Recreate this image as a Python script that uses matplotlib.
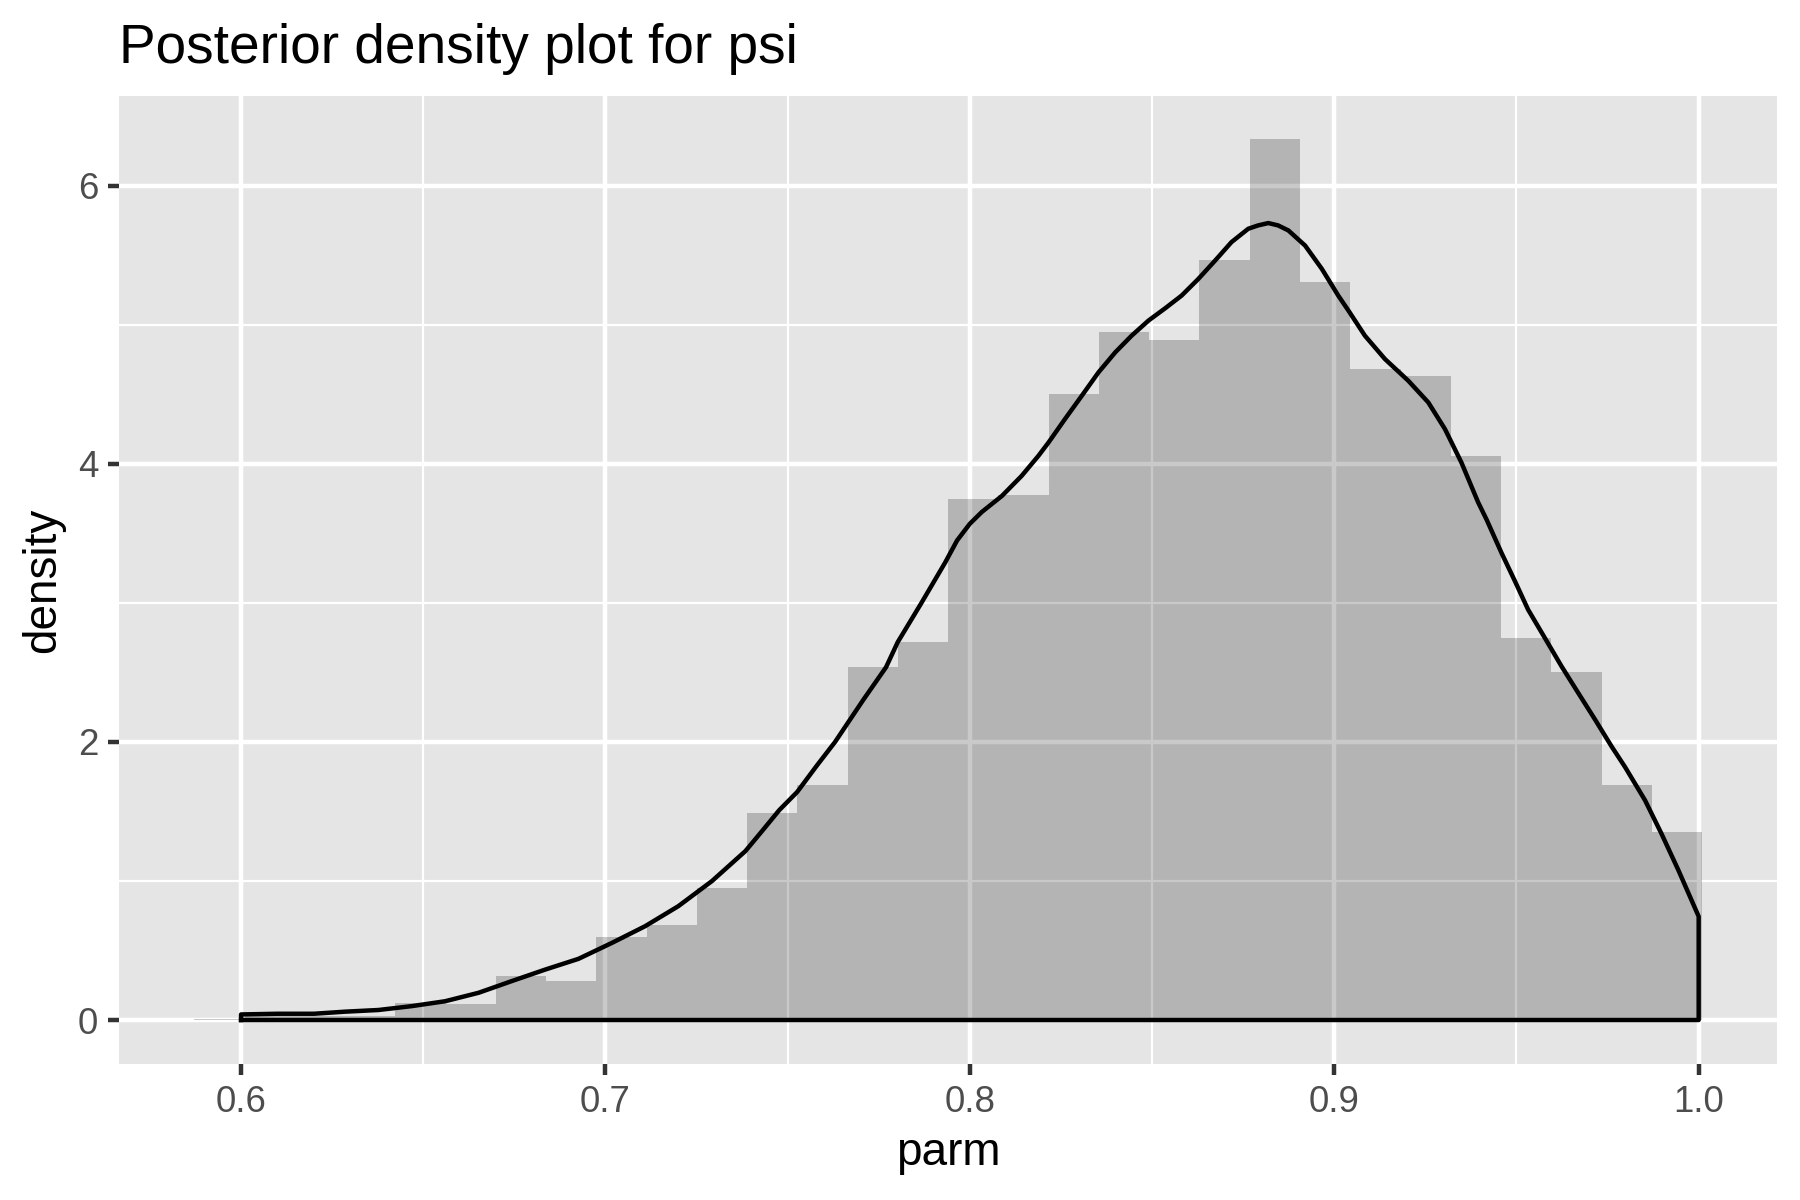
import numpy as np
import matplotlib
matplotlib.use('Agg')
import matplotlib.pyplot as plt

plt.rcParams['font.family'] = ['Liberation Sans', 'DejaVu Sans']

# histogram: 30 bins, density heights
bin_start = 0.58715
bin_width = 0.013793
hist_density = [0.01, 0.04, 0.03, 0.03, 0.124, 0.112, 0.32, 0.284, 0.596, 0.687,
                0.946, 1.49, 1.69, 2.54, 2.72, 3.745, 3.78, 4.50, 4.95, 4.89,
                5.47, 6.337, 5.31, 4.68, 4.63, 4.055, 2.75, 2.50, 1.69, 1.355]

# kernel density curve
dens_x = [0.600, 0.610, 0.620, 0.6286, 0.6377, 0.6469, 0.656, 0.6652, 0.6743, 0.6835,
          0.6926, 0.7018, 0.7109, 0.7200, 0.7292, 0.7384, 0.7430, 0.7477, 0.7526, 0.7580,
          0.7630, 0.7708, 0.7770, 0.7802, 0.7867, 0.7932, 0.7965, 0.8000, 0.8033, 0.8088,
          0.8142, 0.8188, 0.8216, 0.8261, 0.8307, 0.8353, 0.8399, 0.8444, 0.8490, 0.8536,
          0.8581, 0.8627, 0.8673, 0.8718, 0.8764, 0.8791, 0.8819, 0.8846, 0.8874, 0.8920,
          0.8966, 0.9011, 0.9039, 0.9084, 0.9139, 0.9203, 0.9258, 0.9304, 0.9349, 0.9395,
          0.9418, 0.9459, 0.9496, 0.9532, 0.9578, 0.9624, 0.9670, 0.9716, 0.9761, 0.9798,
          0.9853, 0.9898, 0.9944, 1.000]
dens_y = [0.040, 0.045, 0.045, 0.060, 0.072, 0.100, 0.135, 0.196, 0.280, 0.363,
          0.440, 0.555, 0.675, 0.819, 0.999, 1.215, 1.360, 1.510, 1.640, 1.830,
          2.000, 2.305, 2.538, 2.718, 3.000, 3.290, 3.450, 3.570, 3.655, 3.770,
          3.914, 4.058, 4.155, 4.323, 4.490, 4.659, 4.803, 4.923, 5.031, 5.120,
          5.211, 5.331, 5.463, 5.596, 5.692, 5.716, 5.733, 5.716, 5.680, 5.571,
          5.403, 5.211, 5.103, 4.923, 4.755, 4.599, 4.443, 4.250, 4.010, 3.723,
          3.600, 3.360, 3.156, 2.952, 2.748, 2.543, 2.351, 2.160, 1.968, 1.820,
          1.580, 1.340, 1.080, 0.745]

x_major = [0.6, 0.7, 0.8, 0.9, 1.0]
x_minor = [0.65, 0.75, 0.85, 0.95]
y_major = [0, 2, 4, 6]
y_minor = [1, 3, 5]

fig = plt.figure(figsize=(6, 4), dpi=300)
ax = fig.add_axes([119/1800, 1 - 1064/1200, (1777-119)/1800, (1064-96)/1200])
ax.set_facecolor('#E5E5E5')

for v in x_major:
    ax.axvline(v, color='white', lw=1.07, zorder=1)
for v in x_minor:
    ax.axvline(v, color='white', lw=0.53, zorder=1)
for v in y_major:
    ax.axhline(v, color='white', lw=1.07, zorder=1)
for v in y_minor:
    ax.axhline(v, color='white', lw=0.53, zorder=1)

edges = bin_start + bin_width*np.arange(len(hist_density))
ax.bar(edges, hist_density, width=bin_width, align='edge',
       color='black', alpha=0.21, linewidth=0, zorder=2)

# density outline (closed along the baseline like geom_density)
px = [dens_x[0]] + dens_x + [dens_x[-1], dens_x[0]]
py = [0] + dens_y + [0, 0]
ax.plot(px, py, color='black', lw=1.07, zorder=3, solid_joinstyle='round')

ax.set_xlim(0.5665, 1.0215)
ax.set_ylim(-0.3165, 6.647)
ax.set_xticks(x_major)
ax.set_xticklabels(['0.6', '0.7', '0.8', '0.9', '1.0'])
ax.set_yticks(y_major)
ax.set_yticklabels(['0', '2', '4', '6'])
for s in ax.spines.values():
    s.set_visible(False)
ax.tick_params(axis='both', length=2.75, width=1.07, color='#333333',
               labelcolor='#4D4D4D', labelsize=8.8, pad=2.2)

fig.text(119/1800, 1 - 63/1200, 'Posterior density plot for psi',
         fontsize=13.2, ha='left', va='baseline', color='black')
fig.text((119+1777)/2/1800, 1 - 1165/1200, 'parm',
         fontsize=11, ha='center', va='baseline', color='black')
fig.text(43/1800, 1 - 580/1200, 'density', rotation=90,
         fontsize=11, ha='center', va='center', color='black')

fig.savefig('out.png', dpi=300)
